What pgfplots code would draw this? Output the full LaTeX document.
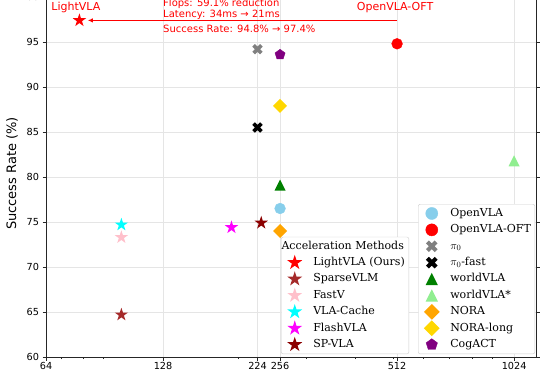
\documentclass[border=0pt]{standalone}
\usepackage{fontspec}
\setmainfont{DejaVu Sans}
\newfontfamily\legfont{DejaVu Serif}
\usepackage{pgfplots}
\pgfplotsset{compat=1.18}
\usetikzlibrary{arrows.meta}

\definecolor{cbrown}{HTML}{A52A2A}
\definecolor{cpink}{HTML}{FFC0CB}
\definecolor{ccyan}{HTML}{00FFFF}
\definecolor{cmagenta}{HTML}{FF00FF}
\definecolor{cdarkred}{HTML}{8B0000}
\definecolor{cskyblue}{HTML}{87CEEB}
\definecolor{cgray}{HTML}{808080}
\definecolor{cgreen}{HTML}{008000}
\definecolor{clightgreen}{HTML}{90EE90}
\definecolor{corange}{HTML}{FFA500}
\definecolor{cgold}{HTML}{FFD700}
\definecolor{cpurple}{HTML}{800080}
\definecolor{cred}{HTML}{FF0000}

\pgfdeclareplotmark{fstar}{%
  \pgfpathmoveto{\pgfpointpolar{90}{\pgfplotmarksize}}%
  \pgfpathlineto{\pgfpointpolar{126}{0.382\pgfplotmarksize}}%
  \pgfpathlineto{\pgfpointpolar{162}{\pgfplotmarksize}}%
  \pgfpathlineto{\pgfpointpolar{198}{0.382\pgfplotmarksize}}%
  \pgfpathlineto{\pgfpointpolar{234}{\pgfplotmarksize}}%
  \pgfpathlineto{\pgfpointpolar{270}{0.382\pgfplotmarksize}}%
  \pgfpathlineto{\pgfpointpolar{306}{\pgfplotmarksize}}%
  \pgfpathlineto{\pgfpointpolar{342}{0.382\pgfplotmarksize}}%
  \pgfpathlineto{\pgfpointpolar{18}{\pgfplotmarksize}}%
  \pgfpathlineto{\pgfpointpolar{54}{0.382\pgfplotmarksize}}%
  \pgfpathclose\pgfusepathqfill}
\pgfdeclareplotmark{fdiamond}{%
  \pgfpathmoveto{\pgfqpoint{0pt}{\pgfplotmarksize}}%
  \pgfpathlineto{\pgfqpoint{\pgfplotmarksize}{0pt}}%
  \pgfpathlineto{\pgfqpoint{0pt}{-\pgfplotmarksize}}%
  \pgfpathlineto{\pgfqpoint{-\pgfplotmarksize}{0pt}}%
  \pgfpathclose\pgfusepathqfill}
\pgfdeclareplotmark{ftri}{%
  \pgfpathmoveto{\pgfqpoint{0pt}{\pgfplotmarksize}}%
  \pgfpathlineto{\pgfqpoint{\pgfplotmarksize}{-\pgfplotmarksize}}%
  \pgfpathlineto{\pgfqpoint{-\pgfplotmarksize}{-\pgfplotmarksize}}%
  \pgfpathclose\pgfusepathqfill}
\pgfdeclareplotmark{fX}{%
  \pgftransformrotate{45}%
  \pgfpathmoveto{\pgfpoint{\pgfplotmarksize}{0.333\pgfplotmarksize}}%
  \pgfpathlineto{\pgfpoint{0.333\pgfplotmarksize}{0.333\pgfplotmarksize}}%
  \pgfpathlineto{\pgfpoint{0.333\pgfplotmarksize}{\pgfplotmarksize}}%
  \pgfpathlineto{\pgfpoint{-0.333\pgfplotmarksize}{\pgfplotmarksize}}%
  \pgfpathlineto{\pgfpoint{-0.333\pgfplotmarksize}{0.333\pgfplotmarksize}}%
  \pgfpathlineto{\pgfpoint{-\pgfplotmarksize}{0.333\pgfplotmarksize}}%
  \pgfpathlineto{\pgfpoint{-\pgfplotmarksize}{-0.333\pgfplotmarksize}}%
  \pgfpathlineto{\pgfpoint{-0.333\pgfplotmarksize}{-0.333\pgfplotmarksize}}%
  \pgfpathlineto{\pgfpoint{-0.333\pgfplotmarksize}{-\pgfplotmarksize}}%
  \pgfpathlineto{\pgfpoint{0.333\pgfplotmarksize}{-\pgfplotmarksize}}%
  \pgfpathlineto{\pgfpoint{0.333\pgfplotmarksize}{-0.333\pgfplotmarksize}}%
  \pgfpathlineto{\pgfpoint{\pgfplotmarksize}{-0.333\pgfplotmarksize}}%
  \pgfpathclose\pgfusepathqfill}

\pgfplotsset{
  myleg/.style={legend image code/.code={%
    \begin{pgfinterruptboundingbox}%
    \draw[##1, draw=none, every mark/.append style={scale=1.12}] plot coordinates {(11.5pt,0pt)};%
    \end{pgfinterruptboundingbox}%
    \path[draw=none, fill=none] (0pt,0pt) -- (28pt,0pt);}},
}

\begin{document}
\begin{tikzpicture}
\begin{axis}[name=ax,
  width=490pt, height=360pt, scale only axis,
  xmode=log,
  xmin=64, xmax=1166, ymin=60, ymax=100,
  clip=false,
  legend cell align=left,
  legend style={
    font=\legfont\fontsize{11}{13}\selectfont,
    draw=black!20, fill=white, rounded corners=2pt,
    inner xsep=2pt, inner ysep=2pt,
    nodes={inner sep=2pt, text height=8pt, text depth=2.5pt},
    row sep=1.9pt,
    at={(0.998,0.008)}, anchor=south east},
  axis line style={black!85, line width=0.8pt},
  tick align=outside,
  tick style={black!85, line width=0.8pt},
  major tick length=3.5pt, minor tick length=2pt,
  xtick={64,128,224,256,512,1024},
  xticklabels={64,128,224,256,512,1024},
  minor xtick={70,80,90,200,300,400,500,600,700,800,900},
  ytick={60,65,70,75,80,85,90,95,100},
  grid=major,
  major grid style={black!10, line width=0.8pt},
  ticklabel style={font=\fontsize{9.7}{11}\selectfont},
  xticklabel style={yshift=1.8pt},
  yticklabel={\pgfmathprintnumber[assume math mode=true]{\tick}},
  ylabel={Success Rate (\%)},
  ylabel style={font=\fontsize{13}{15}\selectfont, at={(axis description cs:-0.0694,0.51)}, anchor=center},
]
\addplot[only marks, mark=*, mark size=5.4pt, color=cskyblue, myleg] coordinates {(256,76.5)};
\addlegendentry{OpenVLA}
\addplot[only marks, mark=*, mark size=5.4pt, color=cred, myleg] coordinates {(512,94.8)};
\addlegendentry{OpenVLA-OFT}
\addplot[only marks, mark=fX, mark size=5.5pt, color=cgray, myleg] coordinates {(224,94.2)};
\addlegendentry{$\pi_0$}
\addplot[only marks, mark=fX, mark size=5.5pt, color=black, myleg] coordinates {(224,85.5)};
\addlegendentry{$\pi_0$-fast}
\addplot[only marks, mark=ftri, mark size=5.5pt, color=cgreen, myleg] coordinates {(256,79.1)};
\addlegendentry{worldVLA}
\addplot[only marks, mark=ftri, mark size=5.5pt, color=clightgreen, myleg] coordinates {(1024,81.8)};
\addlegendentry{worldVLA*}
\addplot[only marks, mark=fdiamond, mark size=7pt, color=corange, myleg] coordinates {(256,74.0)};
\addlegendentry{NORA}
\addplot[only marks, mark=fdiamond, mark size=7pt, color=cgold, myleg] coordinates {(256,87.9)};
\addlegendentry{NORA-long}
\addplot[only marks, mark=pentagon*, mark size=5.3pt, color=cpurple, myleg] coordinates {(256,93.6)};
\addlegendentry{CogACT}
\end{axis}

\begin{axis}[at={(ax.south west)}, anchor=south west, hide axis,
  width=490pt, height=360pt, scale only axis,
  xmode=log,
  xmin=64, xmax=1166, ymin=60, ymax=100,
  clip=false,
  legend cell align=left,
  legend style={
    font=\legfont\fontsize{11}{13}\selectfont,
    draw=black!20, fill=white, rounded corners=2pt,
    inner xsep=2pt, inner ysep=2pt,
    nodes={inner sep=2pt, text height=8pt, text depth=2.5pt},
    row sep=1.9pt,
    at={(0.741,0.008)}, anchor=south east},
]
\addlegendimage{legend image code/.code={\path[draw=none, fill=none] (0pt,0pt) -- (28pt,0pt);}}
\addlegendentry{\hspace*{-31.7pt}Acceleration Methods}
\addplot[only marks, mark=fstar, mark size=7pt, color=cred, myleg] coordinates {(78,97.4)};
\addlegendentry{LightVLA (Ours)}
\addplot[only marks, mark=fstar, mark size=7pt, color=cbrown, myleg] coordinates {(100,64.7)};
\addlegendentry{SparseVLM}
\addplot[only marks, mark=fstar, mark size=7pt, color=cpink, myleg] coordinates {(100,73.3)};
\addlegendentry{FastV}
\addplot[only marks, mark=fstar, mark size=7pt, color=ccyan, myleg] coordinates {(100,74.7)};
\addlegendentry{VLA-Cache}
\addplot[only marks, mark=fstar, mark size=7pt, color=cmagenta, myleg] coordinates {(192,74.4)};
\addlegendentry{FlashVLA}
\addplot[only marks, mark=fstar, mark size=7pt, color=cdarkred, myleg] coordinates {(229,74.9)};
\addlegendentry{SP-VLA}

\draw[cred, line width=1.3pt, -{Latex[length=5pt,width=4.5pt]}] (axis cs:512,97.4) -- (axis cs:82,97.4);
\node[text=cred, anchor=base, inner sep=0pt, font=\fontsize{11}{13}\selectfont] at (axis cs:76.4,98.45) {LightVLA};
\node[text=cred, anchor=base, inner sep=0pt, font=\fontsize{11}{13}\selectfont] at (axis cs:506,98.48) {OpenVLA-OFT};
\node[text=cred, anchor=base west, inner sep=0pt, font=\fontsize{10}{12}\selectfont] at (axis cs:128,98.99) {Flops: 59.1\% reduction};
\node[text=cred, anchor=base west, inner sep=0pt, font=\fontsize{10}{12}\selectfont] at (axis cs:128,97.74) {Latency: 34ms → 21ms};
\node[text=cred, anchor=base west, inner sep=0pt, font=\fontsize{10}{12}\selectfont] at (axis cs:128,96.11) {Success Rate: 94.8\% → 97.4\%};
\end{axis}

\pgfresetboundingbox
\path[use as bounding box] ([xshift=-46pt,yshift=-15pt]ax.south west) rectangle ([xshift=4pt,yshift=-3pt]ax.north east);
\end{tikzpicture}
\end{document}
